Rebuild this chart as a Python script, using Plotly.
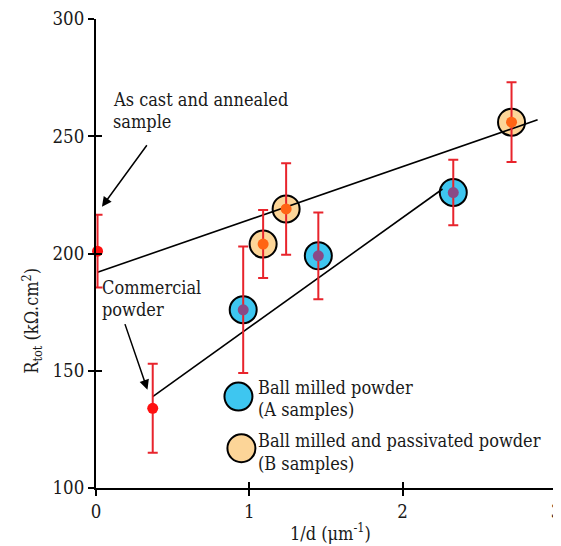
import plotly.graph_objects as go

# ---------------- data ----------------
x_ref = [0.01, 0.37]          # as cast sample, commercial powder
y_ref = [201, 134]
err_ref = [15.5, 19]

x_A = [0.96, 1.45, 2.33]      # ball milled powder (A samples)
y_A = [176, 199, 226]
err_A = [27, 18.5, 14]

x_B = [1.09, 1.24, 2.71]      # ball milled and passivated powder (B samples)
y_B = [204, 219, 256]
err_B = [14.5, 19.5, 17]

fit_upper_x = [0.01, 2.88]
fit_upper_y = [192, 257]
fit_lower_x = [0.37, 2.26]
fit_lower_y = [139, 227.5]

x_ticks = [0, 1, 2, 3]
y_ticks = [100, 150, 200, 250, 300]

# ---------------- layout constants ----------------
OFF = 8                      # page body margin offset
W, H = 561 - OFF, 546 - OFF
L, R, T, B = 96 - OFF, 0, 16 - OFF, 546 - 488
PW, PH = W - L - R, H - T - B
FONT = "DejaVu Serif Condensed, DejaVu Serif, serif"
FS_TEXT = 18
FS_TICK = 18.5

def px(xp):                  # window pixel -> paper x
    return (xp - OFF - L) / PW

def py(yp):                  # window pixel -> paper y
    return (H - B - (yp - OFF)) / PH

CYAN, PURPLE = "#3ec6f0", "#8a4a86"
PEACH, ORANGE = "#fcd598", "#ff6414"
RED, ERR = "#ff1010", "#e8242c"

fig = go.Figure()

# big circles
fig.add_trace(go.Scatter(x=x_A, y=y_A, mode="markers", cliponaxis=False,
                         marker=dict(size=27, color=CYAN, line=dict(color="black", width=2)),
                         showlegend=False, hoverinfo="skip"))
fig.add_trace(go.Scatter(x=x_B, y=y_B, mode="markers", cliponaxis=False,
                         marker=dict(size=27, color=PEACH, line=dict(color="black", width=2)),
                         showlegend=False, hoverinfo="skip"))

# fitted lines
for fx, fy in [(fit_upper_x, fit_upper_y), (fit_lower_x, fit_lower_y)]:
    fig.add_trace(go.Scatter(x=fx, y=fy, mode="lines", line=dict(color="black", width=1.6),
                             showlegend=False, hoverinfo="skip"))

# error bars + inner dots
for xs, ys, es, col in [(x_A, y_A, err_A, PURPLE), (x_B, y_B, err_B, ORANGE),
                        (x_ref, y_ref, err_ref, RED)]:
    fig.add_trace(go.Scatter(x=xs, y=ys, mode="markers", cliponaxis=False,
                             marker=dict(size=11, color=col),
                             error_y=dict(type="data", array=es, color=ERR, thickness=2, width=5),
                             showlegend=False))

# dummy trace for overlay axes (inside half of crossing ticks)
fig.add_trace(go.Scatter(x=[None], y=[None], xaxis="x2", yaxis="y2", showlegend=False,
                         hoverinfo="skip"))

axis_common = dict(showgrid=False, zeroline=False, showline=True, linecolor="black",
                   linewidth=2, ticks="outside", ticklen=6, tickwidth=2, tickcolor="black",
                   ticklabeloverflow="allow",
                   tickfont=dict(family=FONT, size=FS_TICK, color="#1a1a1a"))

fig.update_layout(
    width=W, height=H,
    margin=dict(l=L, r=R, t=T, b=B),
    paper_bgcolor="white", plot_bgcolor="white",
    xaxis=dict(range=[0, 3], tickvals=x_ticks, **axis_common),
    yaxis=dict(range=[100, 300], tickvals=y_ticks, **axis_common),
    xaxis2=dict(range=[0, 3], tickvals=x_ticks, overlaying="x", anchor="y2", side="bottom",
                showgrid=False, zeroline=False, showline=False, showticklabels=False,
                ticks="inside", ticklen=6, tickwidth=2, tickcolor="black"),
    yaxis2=dict(range=[100, 300], tickvals=y_ticks, overlaying="y", anchor="x2", side="left",
                showgrid=False, zeroline=False, showline=False, showticklabels=False,
                ticks="inside", ticklen=6, tickwidth=2, tickcolor="black"),
    font=dict(family=FONT, size=FS_TEXT, color="#1a1a1a"),
)

# legend keys
for (cx, cy, col) in [(240, 396, CYAN), (243, 448, PEACH)]:
    fig.add_shape(type="circle", xref="paper", yref="paper",
                  xsizemode="pixel", ysizemode="pixel",
                  xanchor=px(cx), yanchor=py(cy), x0=-14, x1=14, y0=-14, y1=14,
                  fillcolor=col, line=dict(color="black", width=2))

texts = [
    ("As cast and annealed", 111, 97),
    ("sample", 111, 119),
    ("Commercial", 100, 286),
    ("powder", 100, 308),
    ("Ball milled powder", 258, 387),
    ("(A samples)", 258, 409),
    ("Ball milled and passivated powder", 258, 440),
    ("(B samples)", 258, 463),
]
for t, xp, yp in texts:
    fig.add_annotation(text=t, x=px(xp), y=py(yp), xref="paper", yref="paper",
                       xanchor="left", yanchor="middle", showarrow=False,
                       font=dict(family=FONT, size=FS_TEXT, color="#1a1a1a"))

# arrows
for (hx, hy, tx, ty) in [(102, 205, 148, 142), (148, 389, 125, 322)]:
    fig.add_annotation(text="", x=px(hx), y=py(hy), xref="paper", yref="paper",
                       ax=tx - hx, ay=ty - hy, axref="pixel", ayref="pixel",
                       showarrow=True, arrowhead=2, arrowsize=1.3, arrowwidth=1.5,
                       arrowcolor="black")

# axis titles
fig.add_annotation(text="R<sub>tot</sub> (kΩ.cm<sup>2</sup>)", x=px(31), y=py(320),
                   xref="paper", yref="paper", textangle=-90, showarrow=False,
                   xanchor="center", yanchor="middle",
                   font=dict(family=FONT, size=18, color="#1a1a1a"))
fig.add_annotation(text="1/d (μm<sup>-1</sup>)", x=px(333), y=py(532),
                   xref="paper", yref="paper", showarrow=False,
                   xanchor="center", yanchor="middle",
                   font=dict(family=FONT, size=18, color="#1a1a1a"))

fig.write_html("out.html")
